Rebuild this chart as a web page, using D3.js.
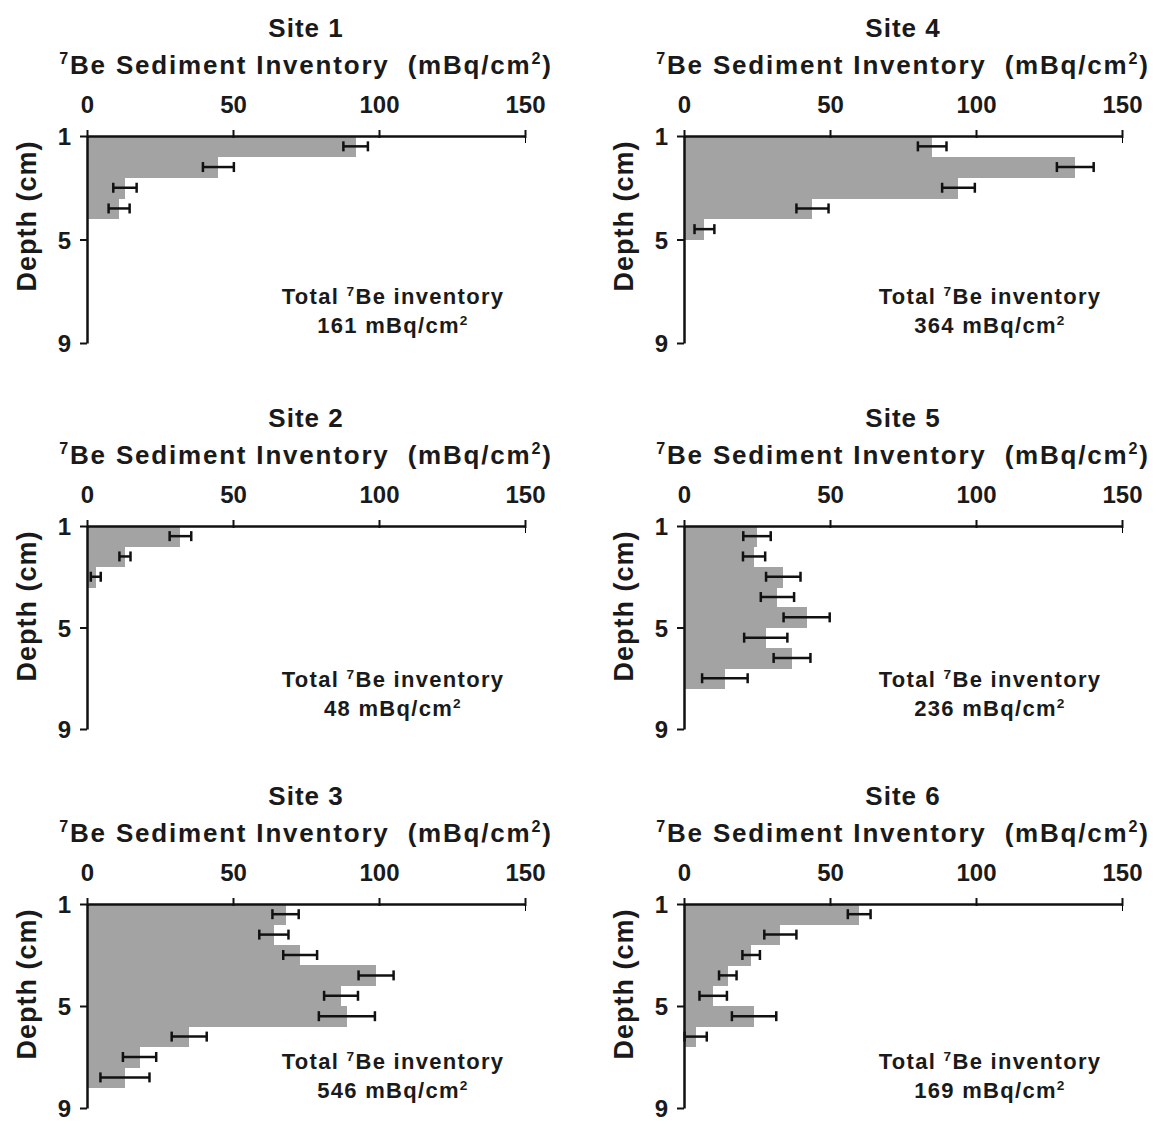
<!DOCTYPE html>
<html>
<head>
<meta charset="utf-8">
<script src="https://cdn.jsdelivr.net/npm/d3@7"></script>
<style>
  html, body { margin: 0; padding: 0; background: #fff; }
  text { font-family: "Liberation Sans", Arial, sans-serif; font-weight: bold; fill: #1a1a1a; }
</style>
</head>
<body>
<svg id="chart" width="1161" height="1124"></svg>
<script>
// ---- data ----
const siteNames = ["Site 1", "Site 2", "Site 3", "Site 4", "Site 5", "Site 6"];
const site1Values = [92, 45, 13, 11];
const site1Errors = [4.2, 5.3, 4.0, 3.6];
const site2Values = [32, 13, 3];
const site2Errors = [3.7, 1.9, 1.7];
const site3Values = [68, 64, 73, 99, 87, 89, 35, 18, 13];
const site3Errors = [4.5, 5.0, 5.8, 6.0, 5.8, 9.6, 6.0, 5.7, 8.4];
const site4Values = [85, 134, 94, 44, 7];
const site4Errors = [4.9, 6.3, 5.6, 5.5, 3.4];
const site5Values = [25, 24, 34, 32, 42, 28, 37, 14];
const site5Errors = [4.7, 3.8, 5.9, 5.7, 7.9, 7.4, 6.3, 7.8];
const site6Values = [60, 33, 23, 15, 10, 24, 4];
const site6Errors = [3.9, 5.5, 3.0, 3.0, 4.7, 7.6, 3.8];
const totalInventory = [161, 48, 546, 364, 236, 169];
const xTicks = [0, 50, 100, 150];
const yTicks = [1, 5, 9];
const depthSlots = d3.range(10);   // 10 sample slots spanning depth 1..9

const values = [site1Values, site2Values, site3Values, site4Values, site5Values, site6Values];
const errors = [site1Errors, site2Errors, site3Errors, site4Errors, site5Errors, site6Errors];

// ---- layout ----
const colX = [87, 684];
const rowY = [136, 526, 904];
const rowH = [207, 203, 204];
const noteDy = [160, 153, 157];
const plotW = 438;

const svg = d3.select("#chart");

function supText(sel, parts) {
  parts.forEach(p => {
    const t = sel.append("tspan").text(p.t);
    if (p.sup) t.attr("font-size", "0.62em").attr("dy", p.dy);
    else if (p.dy) t.attr("dy", p.dy);
  });
}

siteNames.forEach((name, i) => {
  const col = Math.floor(i / 3), row = i % 3;
  const x0 = colX[col], y0 = rowY[row], plotH = rowH[row];
  const g = svg.append("g");

  const x = d3.scaleLinear().domain([0, 150]).range([x0, x0 + plotW]);
  const y = d3.scaleLinear().domain([1, 9]).range([y0, y0 + plotH]);
  const band = d3.scaleBand().domain(depthSlots).range([y0, y0 + plotH]).padding(0);

  const data = values[i].map((v, k) => ({ k, v, e: errors[i][k] }));

  // bars
  g.selectAll("rect.bar").data(data).enter().append("rect")
    .attr("class", "bar")
    .attr("x", x(0))
    .attr("y", d => band(d.k))
    .attr("width", d => x(d.v) - x(0))
    .attr("height", band.bandwidth() + 0.6)
    .attr("fill", "#a3a3a3")
    .attr("shape-rendering", "crispEdges");

  // error bars
  const eg = g.selectAll("g.err").data(data).enter().append("g").attr("class", "err");
  const cy = d => band(d.k) + band.bandwidth() / 2;
  eg.append("line")
    .attr("x1", d => x(Math.max(0, d.v - d.e))).attr("x2", d => x(d.v + d.e))
    .attr("y1", cy).attr("y2", cy)
    .attr("stroke", "#111").attr("stroke-width", 2.5);
  [-1, 1].forEach(s => {
    eg.append("line")
      .attr("x1", d => x(Math.max(0, d.v + s * d.e))).attr("x2", d => x(Math.max(0, d.v + s * d.e)))
      .attr("y1", d => cy(d) - 5).attr("y2", d => cy(d) + 5)
      .attr("stroke", "#111").attr("stroke-width", 2.5);
  });

  // x axis (top)
  const xAxis = d3.axisTop(x).tickValues(xTicks).tickSize(0).tickPadding(0).tickFormat(d3.format("d"));
  const xa = g.append("g").attr("transform", `translate(0,${y0})`).call(xAxis);
  xa.select(".domain").attr("stroke", "#111").attr("stroke-width", 2.5);
  xa.selectAll(".tick text").attr("y", -23).attr("font-size", 24)
    .style("font-family", '"Liberation Sans", Arial, sans-serif').style("font-weight", "bold").attr("fill", "#1a1a1a");
  xa.selectAll(".tick").append("line").attr("y1", -6).attr("y2", 2).attr("stroke", "#111").attr("stroke-width", 2);
  xa.selectAll(".tick").filter(d => d === 150).select("line").attr("y1", 0).attr("y2", 7);
  xa.selectAll(".tick").filter(d => d === 0).select("line").remove();

  // y axis (left)
  const yAxis = d3.axisLeft(y).tickValues(yTicks).tickSize(7).tickSizeOuter(0).tickPadding(9).tickFormat(d3.format("d"));
  const ya = g.append("g").attr("transform", `translate(${x0},0)`).call(yAxis);
  ya.select(".domain").attr("stroke", "#111").attr("stroke-width", 2.5);
  ya.selectAll(".tick line").attr("stroke", "#111").attr("stroke-width", 2);
  ya.selectAll(".tick text").attr("font-size", 24).attr("dy", "0.36em")
    .style("font-family", '"Liberation Sans", Arial, sans-serif').style("font-weight", "bold").attr("fill", "#1a1a1a");

  // titles
  const cx = x0 + plotW / 2;
  g.append("text").attr("x", cx).attr("y", y0 - 99).attr("text-anchor", "middle")
    .attr("font-size", 26).attr("letter-spacing", 1).text(name);
  const sub = g.append("text").attr("x", cx).attr("y", y0 - 62).attr("text-anchor", "middle")
    .attr("font-size", 26).attr("letter-spacing", 1.8);
  supText(sub, [
    { t: "7", sup: true, dy: -10 },
    { t: "Be Sediment Inventory  (mBq/cm", dy: 10 },
    { t: "2", sup: true, dy: -10 },
    { t: ")", dy: 10 }
  ]);
  sub.attr("xml:space", "preserve");

  // depth label
  g.append("text")
    .attr("transform", `translate(${x0 - 51},${y0 + 80}) rotate(-90)`)
    .attr("text-anchor", "middle").attr("font-size", 27).attr("letter-spacing", 1)
    .text("Depth (cm)");

  // total inventory note
  const nx = x0 + 306, ny = y0 + noteDy[row];
  const n1 = g.append("text").attr("x", nx).attr("y", ny + 8).attr("text-anchor", "middle")
    .attr("font-size", 22).attr("letter-spacing", 1.3).attr("fill", "#222");
  supText(n1, [
    { t: "Total " },
    { t: "7", sup: true, dy: -8 },
    { t: "Be inventory", dy: 8 }
  ]);
  const n2 = g.append("text").attr("x", nx).attr("y", ny + 37).attr("text-anchor", "middle")
    .attr("font-size", 22).attr("letter-spacing", 1.3).attr("fill", "#222");
  supText(n2, [
    { t: totalInventory[i] + " mBq/cm" },
    { t: "2", sup: true, dy: -8 }
  ]);
});
</script>
</body>
</html>
